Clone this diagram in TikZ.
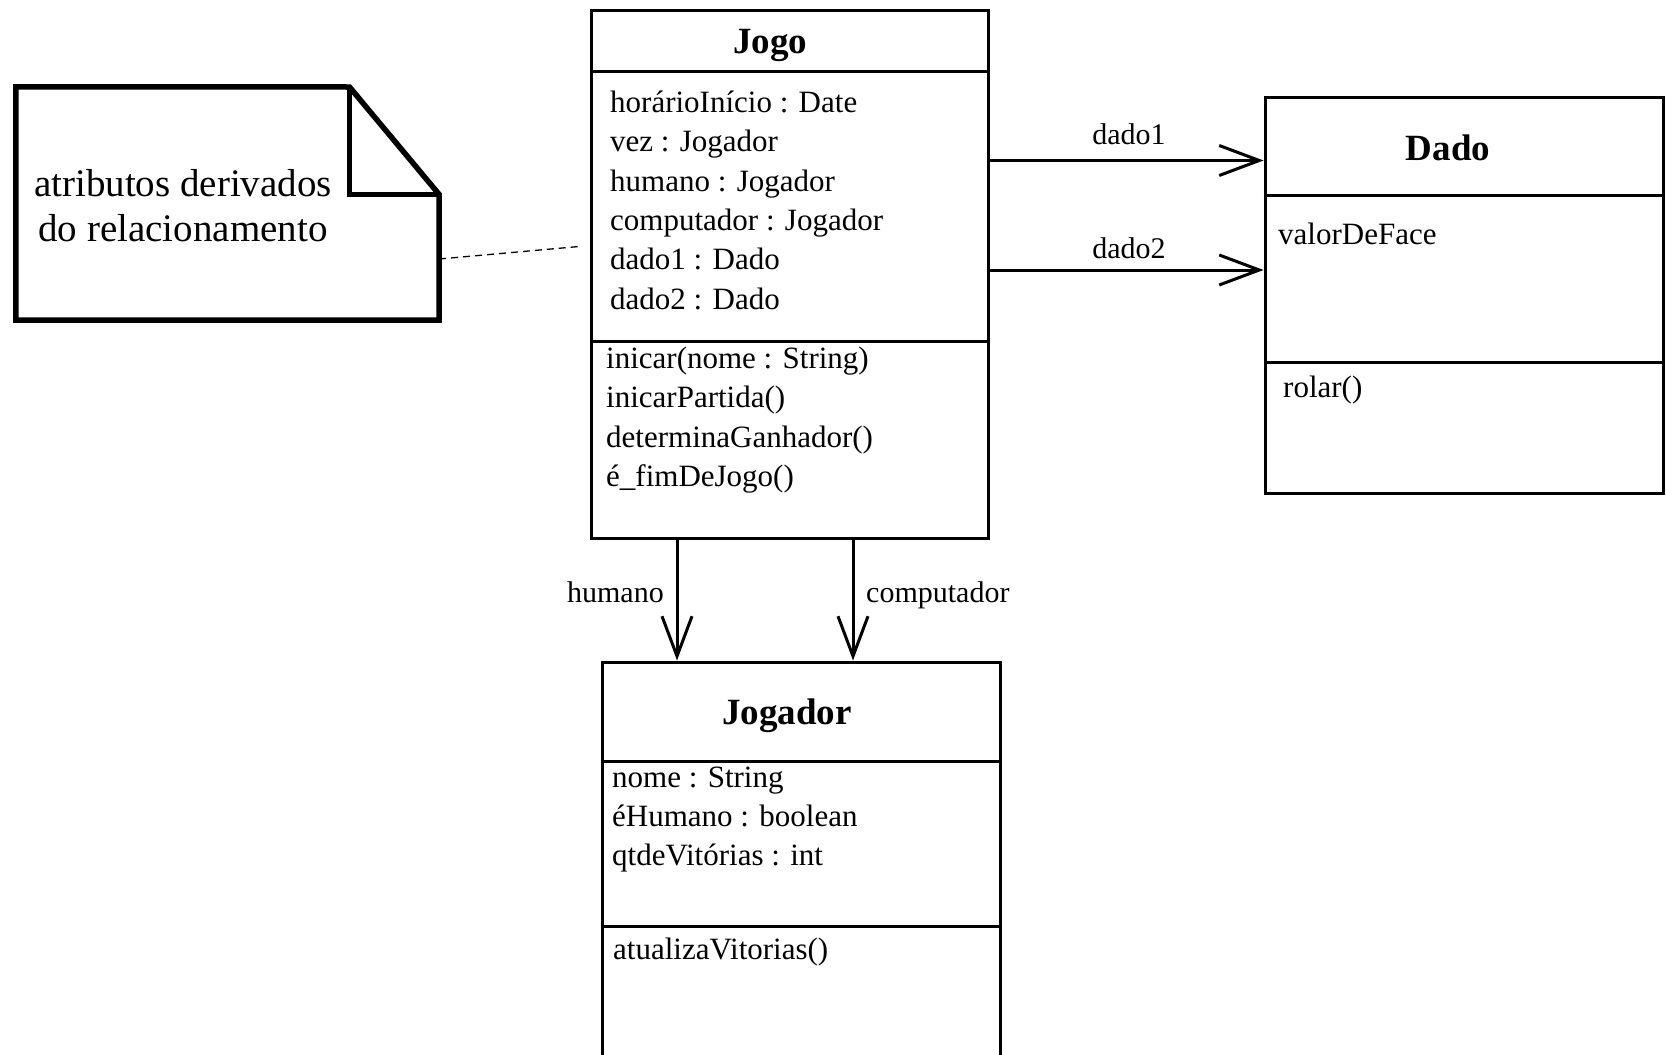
\documentclass[tikz,border=0pt]{standalone}
\usepackage{fontspec}
\setmainfont{Liberation Serif}
\usetikzlibrary{arrows.meta}
\begin{document}
\begin{tikzpicture}[x=1pt,y=-1pt,
  classbox/.style={draw, line width=3pt, rectangle, inner sep=0pt},
  divider/.style={line width=3pt},
  body/.style={anchor=base west, inner sep=0pt, font=\fontsize{31}{39}\selectfont},
  classname/.style={anchor=base, inner sep=0pt, font=\fontsize{37}{44}\selectfont\bfseries},
  rolelabel/.style={inner sep=0pt, font=\fontsize{30}{36}\selectfont},
  notetext/.style={anchor=base, inner sep=0pt, font=\fontsize{39}{45}\selectfont},
  assoc/.style={line width=3pt, -{Straight Barb[length=40pt,width=30pt,line width=3pt]}},
]
\useasboundingbox (0,0) rectangle (1666,1055);

% class boxes
\node[classbox, minimum width=397pt, minimum height=528pt] (jogo) at (789.5,274) {};
\node[classbox, minimum width=398pt, minimum height=396pt] (dado) at (1464,295) {};
\node[classbox, minimum width=398pt, minimum height=413pt] (jogador) at (801,868.5) {};

% compartment rows
\coordinate (jogoA) at (0,71);
\coordinate (jogoB) at (0,341);
\coordinate (dadoA) at (0,195.5);
\coordinate (dadoB) at (0,362);
\coordinate (jogadorA) at (0,761);
\coordinate (jogadorB) at (0,926.5);
\draw[divider] (jogo.west |- jogoA) -- (jogo.east |- jogoA);
\draw[divider] (jogo.west |- jogoB) -- (jogo.east |- jogoB);
\draw[divider] (dado.west |- dadoA) -- (dado.east |- dadoA);
\draw[divider] (dado.west |- dadoB) -- (dado.east |- dadoB);
\draw[divider] (jogador.west |- jogadorA) -- (jogador.east |- jogadorA);
\draw[divider] (jogador.west |- jogadorB) -- (jogador.east |- jogadorB);

% Jogo
\node[classname] (jogoT) at (770,53) {Jogo};
\node[body] (ja1) at (610,112) {horárioInício : Date};
\node[body] (ja2) at (610,151) {vez : Jogador};
\node[body] (ja3) at (610,191) {humano : Jogador};
\node[body] (ja4) at (610,230) {computador : Jogador};
\node[body] (ja5) at (610,269) {dado1 : Dado};
\node[body] (ja6) at (610,309) {dado2 : Dado};
\node[body] (jm1) at (606,368) {inicar(nome : String)};
\node[body] (jm2) at (606,407) {inicarPartida()};
\node[body] (jm3) at (606,447) {determinaGanhador()};
\node[body] (jm4) at (606,486) {é\_fimDeJogo()};

% Dado
\node[classname] (dadoT) at (1448,160) {Dado};
\node[body] (da1) at (1278,244) {valorDeFace};
\node[body] (dm1) at (1283,397) {rolar()};

% Jogador
\node[classname] (jogadorT) at (787,724) {Jogador};
\node[body] (pa1) at (612,787) {nome : String};
\node[body] (pa2) at (612,826) {éHumano : boolean};
\node[body] (pa3) at (612,865) {qtdeVitórias : int};
\node[body] (pm1) at (613,959) {atualizaVitorias()};

% associations
\coordinate (r1) at (0,160.5);
\coordinate (r2) at (0,270);
\coordinate (c1) at (677,0);
\coordinate (c2) at (853,0);
\draw[assoc] (jogo.east |- r1) -- (dado.west |- r1);
\draw[assoc] (jogo.east |- r2) -- (dado.west |- r2);
\draw[assoc] (jogo.south -| c1) -- (jogador.north -| c1);
\draw[assoc] (jogo.south -| c2) -- (jogador.north -| c2);
\node[rolelabel, anchor=base] (l1) at (1129,144) {dado1};
\node[rolelabel, anchor=base] (l2) at (1129,258) {dado2};
\node[rolelabel, anchor=base east] (l3) at (664,602) {humano};
\node[rolelabel, anchor=base west] (l4) at (866,602) {computador};

% note with folded corner
\node[inner sep=0pt, minimum width=423pt, minimum height=233pt] (note) at (227.5,203.5) {};
\draw[line width=5.5pt]
  (note.north west) -- (349.5,87) -- (note.east |- 0,194.5) -- (note.south east)
  -- (note.south west) -- cycle;
\draw[line width=5.5pt] (349.5,87) -- (349.5,194.5) -- (note.east |- 0,194.5);
\node[notetext] (n1) at (183,196) {atributos derivados};
\node[notetext] (n2) at (183,241) {do relacionamento};

% anchor line from note to Jogo
\coordinate (nlink) at (0,259);
\coordinate (dashend) at (579,246.5);
\draw[line width=1.3pt, dash pattern=on 7pt off 5pt] (note.east |- nlink) -- (dashend);
\end{tikzpicture}
\end{document}
